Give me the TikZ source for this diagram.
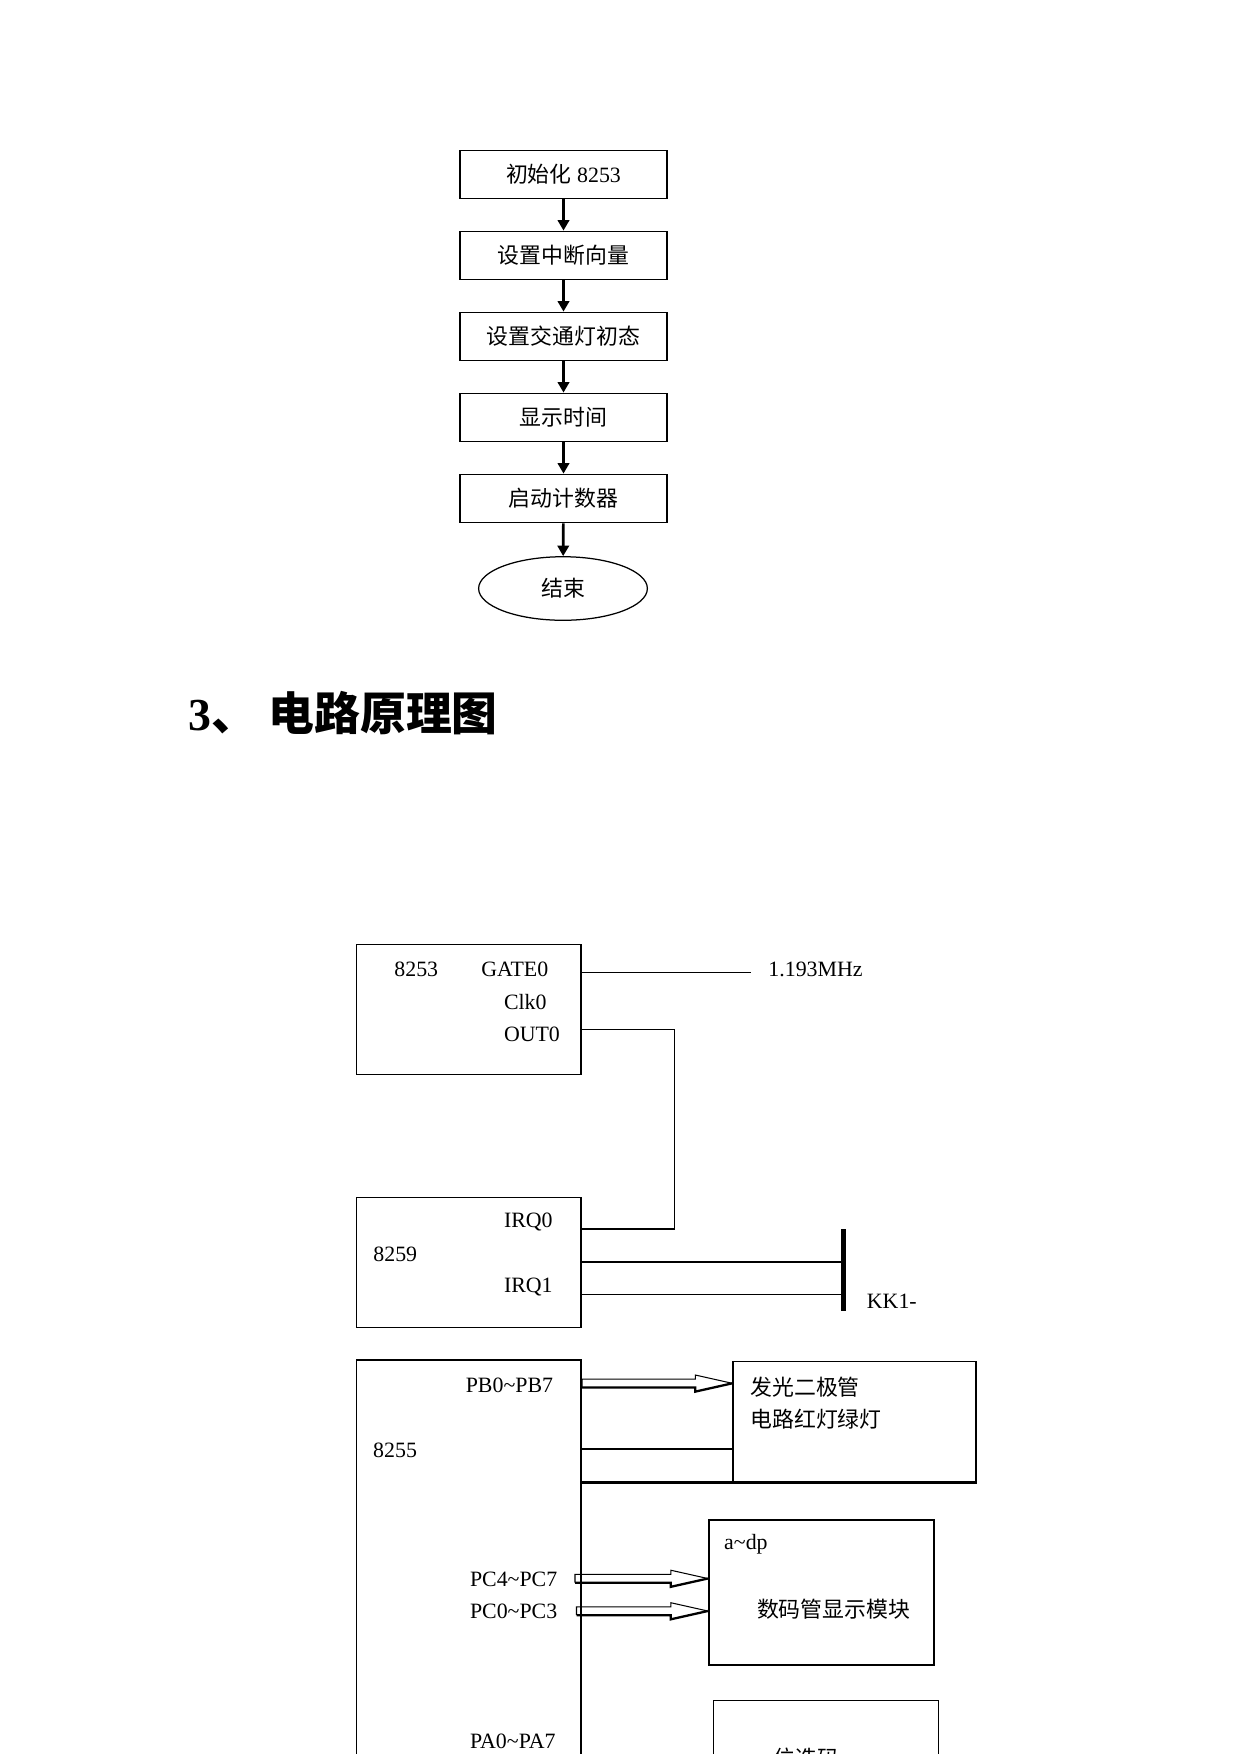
\documentclass[tikz,border=0pt]{standalone}
\usepackage{fontspec}
\setmainfont{Liberation Serif}
\newfontfamily\cjk{Noto Sans CJK SC}
\usetikzlibrary{arrows.meta,shapes.geometric,calc}

% hollow bus arrow: #1 left end of the shaft, #2 tip
\newcommand{\busarrow}[2]{%
  \draw[thin wire] ($(#1)+(0,4.2)$) -- ($(#1)+(0,-4.2)$) -- ($(#2)+(-37,-4.2)$)
     -- ($(#2)+(-37,-8.3)$) -- (#2);
  \draw[bus] ($(#1)+(0,4.2)$) -- ($(#2)+(-37,4.2)$) -- ($(#2)+(-37,8.3)$) -- (#2);}

\begin{document}
\begin{tikzpicture}[x=0.48pt,y=-0.48pt,font=\fontsize{10.5}{12}\selectfont,
   flowbox/.style={draw,line width=.9pt,minimum width=99.4pt,minimum height=23pt,inner sep=0},
   endbox/.style={draw,ellipse,line width=.6pt,minimum width=81pt,minimum height=30.5pt,inner sep=0},
   flow/.style={-{Triangle[length=5pt,width=5.4pt]},line width=1.3pt},
   chip/.style={draw,line width=.8pt,anchor=north west,inner sep=0},
   pin/.style={anchor=west,inner sep=0},
   wire/.style={line width=.75pt},
   thin wire/.style={line width=.5pt},
   bus/.style={line width=1.1pt}]
   \useasboundingbox (0,0) rectangle (1241,1754);
   \clip (0,0) rectangle (1241,1754);
   % flow chart
   \node[flowbox] (init) at (563.5,174.5) {{\cjk 初始化} 8253};
   \node[flowbox] (vec) at (563.5,255.5) {\cjk 设置中断向量};
   \node[flowbox] (light) at (563.5,336.5) {\cjk 设置交通灯初态};
   \node[flowbox] (show) at (563.5,417.5) {\cjk 显示时间};
   \node[flowbox] (count) at (563.5,498.5) {\cjk 启动计数器};
   \node[endbox] (stop) at (563,588.5) {\cjk 结束};
   \draw[flow] (init) -- (vec);
   \draw[flow] (vec) -- (light);
   \draw[flow] (light) -- (show);
   \draw[flow] (show) -- (count);
   \draw[flow] (count) -- (stop);
   % heading
   \node[pin,font=\fontsize{22}{26}\selectfont\bfseries] (title) at (188,713) {3{\cjk 、} {\cjk 电路原理图}};
   % 8253
   \node[chip,minimum width=107.9pt,minimum height=62.4pt] (b53) at (355.6,943.5) {};
   \node[pin] (n53) at (394,969.3) {8253};
   \node[pin] (gate) at (481,969.3) {GATE0};
   \node[pin] (clk) at (503.6,1001.7) {Clk0};
   \node[pin] (out) at (503.6,1034.3) {OUT0};
   \node[pin] (mhz) at (768,969.3) {1.193MHz};
   % 8259
   \node[chip,minimum width=107.9pt,minimum height=62.4pt] (b59) at (355.6,1196.5) {};
   \node[pin] (irq0) at (503.6,1222.3) {IRQ0};
   \node[pin] (n59) at (373,1254.3) {8259};
   \node[pin] (irq1) at (503.6,1286.7) {IRQ1};
   \node[pin] (kk) at (866.5,1301.5) {KK1-};
   % 8255
   \node[chip,minimum width=107.9pt,minimum height=211.5pt] (b55) at (355.6,1359.4) {};
   \node[pin] (pb) at (465.4,1385) {PB0\textasciitilde PB7};
   \node[pin] (n55) at (372.8,1450) {8255};
   \node[pin] (pc4) at (469.6,1579.3) {PC4\textasciitilde PC7};
   \node[pin] (pc0) at (469.6,1611.7) {PC0\textasciitilde PC3};
   \node[pin] (pa) at (469.6,1741.7) {PA0\textasciitilde PA7};
   % output modules
   \node[chip,minimum width=116.7pt,minimum height=57.6pt] (led) at (732.3,1360.7) {};
   \node[pin] (led1) at (750,1386.7) {\cjk 发光二极管};
   \node[pin] (led2) at (750,1419.3) {\cjk 电路红灯绿灯};
   \node[chip,minimum width=108.1pt,minimum height=69.6pt,line width=1pt] (seg) at (707.8,1519) {};
   \node[pin] (adp) at (723.8,1544) {a\textasciitilde dp};
   \node[pin] (segtxt) at (756.7,1609.3) {\cjk 数码管显示模块};
   \node[chip,minimum width=108pt,minimum height=48pt,line width=.6pt] (wei) at (712.5,1700) {};
   \node[pin] (weitxt) at (773,1758) {\cjk 位选码};
   % wires
   \coordinate (clkend) at (750.7,972.7);
   \draw[thin wire] (b53.east |- clkend) -- (clkend);
   \coordinate (o0) at (674.6,1029.3);
   \coordinate (kink) at (674.6,1229);
   \draw[wire] (b53.east |- o0) -- (o0) -- (kink) -- (b59.east |- kink);
   \coordinate (kktop) at (843.6,1229);
   \coordinate (kkbot) at (843.6,1310.7);
   \draw[line width=2.7pt] (kktop) -- (kkbot);
   \coordinate (kka) at (843.6,1261.7);
   \coordinate (kkb) at (843.6,1294.3);
   \draw[bus] (b59.east |- kka) -- (kka);
   \draw[thin wire] (b59.east |- kkb) -- (kkb);
   % buses
   \coordinate (pbt) at (732.3,1383.3);
   \coordinate (pbs) at (b55.east |- pbt);
   \busarrow{pbs}{pbt}
   \coordinate (ledrow) at (700,1449.3);
   \draw[bus] (b55.east |- ledrow) -- (led.west |- ledrow);
   \draw[bus] (b55.east |- led.south) -- (led.south east);
   \coordinate (pc4s) at (575,1578.5);
   \coordinate (pc4t) at (seg.west |- pc4s);
   \busarrow{pc4s}{pc4t}
   \coordinate (pc0s) at (576.5,1611);
   \coordinate (pc0t) at (seg.west |- pc0s);
   \busarrow{pc0s}{pc0t}
\end{tikzpicture}
\end{document}
